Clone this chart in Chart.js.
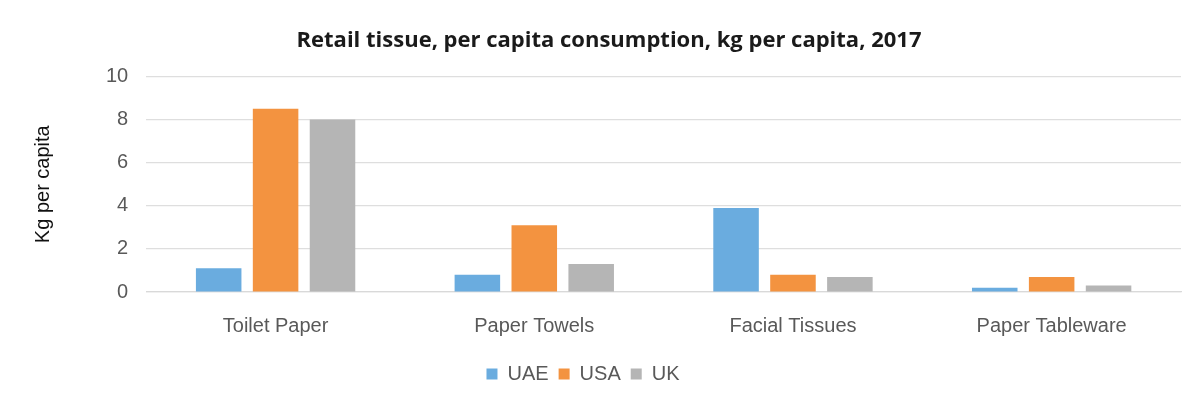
<!DOCTYPE html>
<html>
<head>
<meta charset="utf-8">
<script src="https://cdn.jsdelivr.net/npm/chart.js@4/dist/chart.umd.min.js"></script>
<style>
  html, body { margin: 0; padding: 0; background: #fff; }
</style>
</head>
<body>
<canvas id="chart" width="1196" height="394"></canvas>
<script>
const categories = ["Toilet Paper", "Paper Towels", "Facial Tissues", "Paper Tableware"];
const uae = [1.1, 0.8, 3.9, 0.2];
const usa = [8.5, 3.1, 0.8, 0.7];
const uk = [8.0, 1.3, 0.7, 0.3];
const yTicks = [0, 2, 4, 6, 8, 10];

const tickFont = { family: "'Liberation Sans', Arial, sans-serif", size: 20 };

// nudge title and legend sideways to sit where they do in the original
const shiftBlocks = {
  id: "shiftBlocks",
  afterLayout(chart) {
    chart.titleBlock.left += 5;
    chart.titleBlock.right += 5;
    chart.legend.left -= 21;
    chart.legend.right -= 21;
  },
};

new Chart(document.getElementById("chart"), {
  type: "bar",
  data: {
    labels: categories,
    datasets: [
      { label: "UAE", data: uae, backgroundColor: "#6aacdf" },
      { label: "USA", data: usa, backgroundColor: "#f39340" },
      { label: "UK", data: uk, backgroundColor: "#b5b5b5" },
    ],
  },
  plugins: [shiftBlocks],
  options: {
    responsive: false,
    animation: false,
    layout: { padding: { left: 27, right: 15, top: 28, bottom: 0 } },
    datasets: {
      bar: { categoryPercentage: 0.66, barPercentage: 0.8 },
    },
    plugins: {
      title: {
        display: true,
        text: "Retail tissue, per capita consumption, kg per capita, 2017",
        color: "#1a1a1a",
        font: { family: "'Open Sans', sans-serif", size: 22, weight: "bold" },
        padding: { top: 0, bottom: 22 },
      },
      legend: {
        position: "bottom",
        labels: {
          color: "#595959",
          font: tickFont,
          boxWidth: 11,
          boxHeight: 11,
          padding: 10,
        },
      },
      tooltip: { enabled: false },
    },
    scales: {
      x: {
        grid: { display: false },
        border: { color: "#d9d9d9", width: 1.2 },
        ticks: { color: "#595959", font: tickFont, padding: 14 },
        afterFit: (scale) => { scale.height += 2; },
      },
      y: {
        min: 0,
        max: 10,
        afterBuildTicks: (axis) => { axis.ticks = yTicks.map((v) => ({ value: v })); },
        grid: { color: "#dedede", lineWidth: 1.2, drawTicks: false },
        border: { display: false },
        ticks: { color: "#595959", font: tickFont, padding: 18 },
        title: {
          display: true,
          text: "Kg per capita",
          color: "#111111",
          font: tickFont,
          padding: { top: 4, bottom: 33 },
        },
      },
    },
  },
});
</script>
</body>
</html>
